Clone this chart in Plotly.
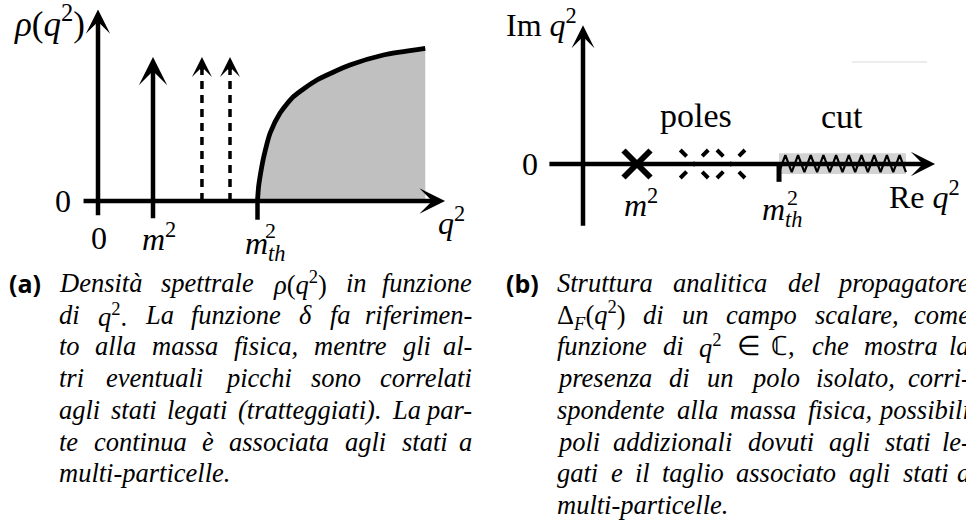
import re
import plotly.graph_objects as go

FIG_W, FIG_H = 966, 529

# ---------------- (a) spectral density rho(q^2) ----------------
Q2_M = 1.0                      # physical mass m^2 (delta peak)
Q2_BOUND = [1.89, 2.40]         # bound-state peaks (dashed)
Q2_TH = 2.90                    # multi-particle threshold m_th^2
PEAK_RHO = 1.0                  # drawn height of the delta peaks
CONT_Q2 = [2.90, 2.92, 2.96, 3.01, 3.13, 3.31, 3.55, 3.98, 4.58, 5.19, 5.95]
CONT_RHO = [0.00, 0.10, 0.20, 0.30, 0.472, 0.611, 0.724, 0.840, 0.944, 1.014, 1.060]
A_QAXIS = [-0.29, 6.31]         # extent of the q^2 axis
A_RHOAXIS = [-0.11, 1.33]       # extent of the rho axis
A_TICK = -0.13                  # depth of the ticks below the axis

# ---------------- (b) complex q^2 plane ----------------
B_MASS = 1.0                    # isolated pole at m^2
B_POLES = [2.06, 2.74]          # bound-state poles (dashed)
B_TH = 3.63                     # branch point m_th^2
B_CUT_END = 5.98                # end of the drawn cut
B_REAXIS = [-0.65, 6.52]
B_IMAXIS = [-1.17, 2.57]
B_TICK = -0.33
B_CUT_BAND = [-0.185, 0.198]    # grey band around the cut
B_ZIG = [-0.15, 0.165]          # zig-zag amplitude of the cut
B_TEETH = 10

CAPTION_A = [
    "Densità spettrale @rho in funzione",
    "di @q2. La funzione @delta fa riferimen-",
    "to alla massa fisica, mentre gli al-",
    "tri eventuali picchi sono correlati",
    "agli stati legati (tratteggiati). La par-",
    "te continua è associata agli stati a",
    "multi-particelle.",
]
CAPTION_B = [
    "Struttura analitica del propagatore",
    "@DeltaF di un campo scalare, come",
    "funzione di @q2 @in @C, che mostra la",
    "presenza di un polo isolato, corri-",
    "spondente alla massa fisica, possibili",
    "poli addizionali dovuti agli stati le-",
    "gati e il taglio associato agli stati a",
    "multi-particelle.",
]
MATH = {
    "@rho": "<i>ρ</i>(<i>q</i><sup>2</sup>)",
    "@q2.": "<i>q</i><sup>2</sup>.",
    "@q2": "<i>q</i><sup>2</sup>",
    "@delta": "<i>δ</i>",
    "@DeltaF": "Δ<sub><i>F</i></sub>(<i>q</i><sup>2</sup>)",
    "@in": "∈",
    "@C,": "ℂ,",
}

SERIF = "Liberation Serif"
BLACK = "black"

fig = go.Figure()

# ---- panel (a) ----
fig.add_trace(go.Scatter(
    x=CONT_Q2, y=CONT_RHO, mode="lines", xaxis="x", yaxis="y",
    line=dict(color=BLACK, width=4.8, shape="spline", smoothing=0.6),
    fill="tozeroy", fillcolor="#c0c0c0", hoverinfo="skip"))
for q in Q2_BOUND:
    fig.add_trace(go.Scatter(
        x=[q, q], y=[0, PEAK_RHO - 0.06], mode="lines", xaxis="x", yaxis="y",
        line=dict(color=BLACK, width=3.5, dash="8px,6px"), hoverinfo="skip"))
fig.add_trace(go.Scatter(
    x=[Q2_TH, Q2_TH], y=[A_TICK, 0], mode="lines", xaxis="x", yaxis="y",
    line=dict(color=BLACK, width=4.5), hoverinfo="skip"))

# ---- panel (b) ----
band_x = [B_TH, B_CUT_END, B_CUT_END, B_TH, B_TH]
band_y = [B_CUT_BAND[0], B_CUT_BAND[0], B_CUT_BAND[1], B_CUT_BAND[1], B_CUT_BAND[0]]
fig.add_trace(go.Scatter(
    x=band_x, y=band_y, mode="lines", fill="toself", fillcolor="#d3d3d3",
    line=dict(width=0, color="#d3d3d3"), xaxis="x2", yaxis="y2", hoverinfo="skip"))

# zig-zag along the cut
step = (B_CUT_END - B_TH) / (2 * B_TEETH)
zx, zy = [], []
for k in range(2 * B_TEETH + 1):
    zx.append(B_TH + k * step)
    zy.append(B_ZIG[1] if k % 2 else B_ZIG[0])
fig.add_trace(go.Scatter(
    x=zx, y=zy, mode="lines", line=dict(color=BLACK, width=2.2),
    xaxis="x2", yaxis="y2", hoverinfo="skip"))

# dashed crosses for the bound-state poles
half = 0.259
for p in B_POLES:
    fig.add_trace(go.Scatter(
        x=[p - half, p + half, None, p - half, p + half],
        y=[-half, half, None, half, -half],
        mode="lines", line=dict(color=BLACK, width=4, dash="9px,9.5px,3px,9.5px"),
        xaxis="x2", yaxis="y2", hoverinfo="skip"))

fig.add_trace(go.Scatter(
    x=[B_MASS], y=[0], mode="markers", xaxis="x2", yaxis="y2",
    marker=dict(symbol="x-thin", size=27, line=dict(color=BLACK, width=6)),
    hoverinfo="skip"))
fig.add_trace(go.Scatter(
    x=[B_TH, B_TH], y=[B_TICK, 0], mode="lines", xaxis="x2", yaxis="y2",
    line=dict(color=BLACK, width=5), hoverinfo="skip"))
fig.add_trace(go.Scatter(
    x=[4.98, 6.37], y=[1.889, 1.889], mode="lines", xaxis="x2", yaxis="y2",
    line=dict(color="#ececec", width=2), hoverinfo="skip"))

annotations = []


def arrow(xr, yr, x0, y0, x1, y1, width, size):
    annotations.append(dict(
        xref=xr, yref=yr, axref=xr, ayref=yr, x=x1, y=y1, ax=x0, ay=y0,
        text="", showarrow=True, arrowhead=3, arrowwidth=width,
        arrowsize=size, arrowcolor=BLACK, standoff=0))


# axes and delta peaks of (a)
arrow("x", "y", A_QAXIS[0], 0, A_QAXIS[1], 0, 4.5, 0.95)
arrow("x", "y", 0, A_RHOAXIS[0], 0, A_RHOAXIS[1], 4.5, 0.9)
arrow("x", "y", Q2_M, A_TICK, Q2_M, PEAK_RHO, 4.5, 1.05)
for q in Q2_BOUND:
    arrow("x", "y", q, PEAK_RHO - 0.1, q, PEAK_RHO, 3.5, 0.95)

# axes of (b)
arrow("x2", "y2", B_REAXIS[0], 0, B_REAXIS[1], 0, 4.5, 0.9)
arrow("x2", "y2", 0, B_IMAXIS[0], 0, B_IMAXIS[1], 4.5, 0.85)


def label(text, xr, yr, x, y, dx=0, dy=0, size=32, xanchor="center"):
    annotations.append(dict(
        xref=xr, yref=yr, x=x, y=y, xshift=dx, yshift=dy, text=text,
        showarrow=False, xanchor=xanchor, yanchor="middle",
        font=dict(family=SERIF, size=size, color=BLACK)))


# labels of (a)
label("<i>ρ</i>(<i>q</i><sup>2</sup>)", "x", "y", 0, A_RHOAXIS[1], -49, -12, size=35)
label("0", "x", "y", A_QAXIS[0], 0, -9, 0, xanchor="right")
label("0", "x", "y", 0, 0, 1, -37)
label("<i>m</i><sup>2</sup>", "x", "y", Q2_M, 0, 6, -36)
label("<i>m</i><sub><i>th</i></sub>", "x", "y", Q2_TH, 0, -15, -44, xanchor="left")
label("2", "x", "y", Q2_TH, 0, 13, -29, size=22)
label("<i>q</i><sup>2</sup>", "x", "y", A_QAXIS[1], 0, 6, -20)

# labels of (b)
label("Im <i>q</i><sup>2</sup>", "x2", "y2", 0, B_IMAXIS[1], -42, 2)
label("0", "x2", "y2", B_REAXIS[0], 0, -8, 0, xanchor="right")
label("<i>m</i><sup>2</sup>", "x2", "y2", B_MASS, 0, 4, -39)
label("<i>m</i><sub><i>th</i></sub>", "x2", "y2", B_TH, 0, -19, -47, xanchor="left")
label("2", "x2", "y2", B_TH, 0, 13, -33, size=22)
label("Re <i>q</i><sup>2</sup>", "x2", "y2", B_REAXIS[1], 0, -11, -31)
label("poles", "x2", "y2", B_POLES[0], 0, 2, 49, size=34)
label("cut", "x2", "y2", (B_TH + B_CUT_END) / 2, 0, 0, 48, size=34)

# ---------------- justified captions ----------------
CHAR_W = {
    "a": 500, "b": 500, "c": 444, "d": 500, "e": 444, "f": 278, "g": 500,
    "h": 500, "i": 278, "j": 278, "k": 444, "l": 278, "m": 722, "n": 500,
    "o": 500, "p": 500, "q": 500, "r": 389, "s": 389, "t": 278, "u": 500,
    "v": 444, "w": 667, "x": 444, "y": 444, "z": 389, "à": 500, "è": 444,
    "D": 722, "L": 556, "S": 500, "F": 611, "Δ": 612, "ρ": 500, "δ": 480,
    "∈": 667, "ℂ": 700, "(": 333, ")": 333, ".": 250, ",": 250, "-": 333,
    "2": 500,
}
CAP_SIZE = 26.5
LINE_GAP = 31.7


def word_html(w):
    if w in MATH:
        return MATH[w]
    return "<i>" + w + "</i>"


def est_width(html):
    total, scale = 0.0, 1.0
    for m in re.finditer(r"<(/?)(\w+)>|([^<]+)", html):
        if m.group(2):
            if m.group(2) in ("sup", "sub"):
                scale = 1.0 if m.group(1) else 0.7
        else:
            for ch in m.group(3):
                total += CHAR_W.get(ch, 500) * scale
    return total * CAP_SIZE / 1000.0


def caption(tag, tag_x, left, right, top, lines):
    annotations.append(dict(
        xref="paper", yref="paper", x=tag_x / FIG_W, y=1 - top / FIG_H,
        text="<b>" + tag + "</b>", showarrow=False, xanchor="left",
        yanchor="middle", font=dict(family="Open Sans", size=25, color=BLACK)))
    for i, line in enumerate(lines):
        py = top + i * LINE_GAP
        words = [word_html(w) for w in line.split(" ")]
        widths = [est_width(w) for w in words]
        last = i == len(lines) - 1
        if last or len(words) == 1:
            gap = 0.26 * CAP_SIZE
        else:
            gap = (right - left - sum(widths)) / (len(words) - 1)
        x = left
        for j, (w, wd) in enumerate(zip(words, widths)):
            if j == len(words) - 1 and not last and len(words) > 1:
                ax, anchor = right, "right"
            else:
                ax, anchor = x, "left"
            annotations.append(dict(
                xref="paper", yref="paper", x=ax / FIG_W, y=1 - py / FIG_H,
                text=w, showarrow=False, xanchor=anchor, yanchor="middle",
                font=dict(family=SERIF, size=CAP_SIZE, color=BLACK)))
            x += wd + gap


caption("(a)", 7, 57, 474, 283, CAPTION_A)
caption("(b)", 504, 555, 972, 283, CAPTION_B)

axis_off = dict(visible=False, fixedrange=True, showgrid=False, zeroline=False)
fig.update_layout(
    width=FIG_W, height=FIG_H,
    margin=dict(l=0, r=0, t=0, b=0, pad=0),
    paper_bgcolor="white", plot_bgcolor="white",
    showlegend=False,
    xaxis=dict(domain=[0, 480 / FIG_W], range=[-98 / 55, 382 / 55], anchor="y", **axis_off),
    yaxis=dict(domain=[0, 1], range=[-328 / 144, 201 / 144], anchor="x", **axis_off),
    xaxis2=dict(domain=[480 / FIG_W, 1], range=[-103 / 54, 383 / 54], anchor="y2", **axis_off),
    yaxis2=dict(domain=[0, 1], range=[-365 / 54, 164 / 54], anchor="x2", **axis_off),
    annotations=annotations,
)

fig.write_html("out.html", config=dict(displayModeBar=False))
